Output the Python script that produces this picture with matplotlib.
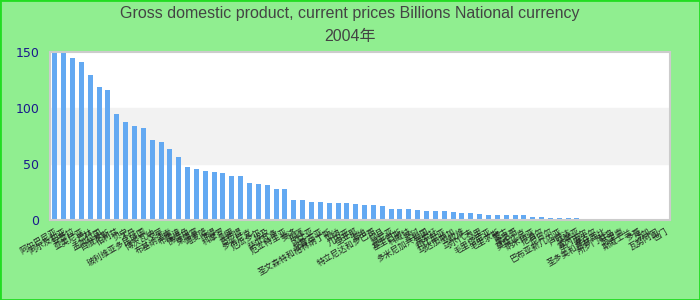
# GDP 2004 bar chart, sorted high to low

import matplotlib
matplotlib.use("Agg")
import matplotlib.pyplot as plt
from matplotlib.patches import Rectangle

title_line1 = "Gross domestic product, current prices Billions National currency"
title_line2 = "2004年"

countries = ["阿尔巴尼亚", "阿尔及利亚", "安哥拉", "亚美尼亚", "巴林", "孟加拉国", "白俄罗斯",
             "伯利兹", "贝宁", "不丹", "玻利维亚多民族国", "博茨瓦纳", "文莱", "布基纳法索",
             "布隆迪", "佛得角", "柬埔寨", "喀麦隆", "乍得", "科摩罗", "刚果",
             "吉布提", "多米尼克", "厄瓜多尔", "埃及", "萨尔瓦多", "厄立特里亚", "斐济",
             "加蓬", "冈比亚", "格鲁吉亚", "圣文森特和格林纳丁斯", "加纳", "几内亚", "圭亚那",
             "海地", "特立尼达和多巴哥", "约旦", "肯尼亚", "基里巴斯", "科威特", "老挝",
             "多米尼加共和国", "莱索托", "利比里亚", "马达加斯加", "马拉维", "马尔代夫", "马里",
             "毛里塔尼亚", "毛里求斯", "蒙古", "摩洛哥", "莫桑比克", "纳米比亚", "尼泊尔",
             "尼日尔", "巴布亚新几内亚", "卢旺达", "萨摩亚", "塞内加尔", "塞舌尔", "圣多美和普林西比",
             "所罗门群岛", "苏里南", "斯威士兰", "多哥", "汤加", "瓦努阿图", "也门"]

gdp = [150, 150, 144.4, 140.8, 129.2, 118.5, 115.8, 94.4, 87.2, 83.7, 81.9, 71.2, 69.4, 63.1,
       56, 47.3, 45.5, 43.7, 42.8, 41.9, 39.2, 39.2, 33, 32.1, 31.2, 27.7, 27.7, 17.9,
       17.9, 16, 16, 15.2, 15.2, 15.2, 14.3, 13.4, 13.4, 12.5, 9.8, 9.8, 9.8, 8.9,
       8, 8, 8, 7.1, 6.2, 6.2, 5.3, 4.5, 4.5, 4.5, 4.5, 4.5, 2.7, 2.7,
       1.8, 1.8, 1.8, 1.8, 0.9, 0.9, 0.9, 0.9, 0.9, 0.9, 0.9, 0.2, 0.1, 0.1]

yticks = [0, 50, 100, 150]

fig = plt.figure(figsize=(7, 3), dpi=100, facecolor="#90ee90")
fig.patches.append(Rectangle((0, 0), 1, 1, transform=fig.transFigure, fill=False,
                             edgecolor="#22dd22", linewidth=2, zorder=10))

ax = fig.add_axes([0.072, 0.267, 0.885, 0.561])
ax.set_facecolor("white")
ax.axhspan(50, 100, color="#f2f2f2", zorder=0)

x = list(range(len(gdp)))
ax.bar(x, gdp, width=0.56, color="#63a9f2", zorder=2)

ax.set_xlim(-0.5, len(gdp) - 0.5)
ax.set_ylim(0, 150)
ax.set_yticks(yticks)
ax.tick_params(axis="y", length=0, pad=8, labelsize=9, labelcolor="#1a1a8c")
ax.set_xticks(x)
ax.set_xticklabels(countries, rotation=30, ha="right", rotation_mode="anchor",
                   fontsize=6, color="#222222", family=["Noto Sans CJK SC", "DejaVu Sans"])
ax.tick_params(axis="x", length=0, pad=5)
for s in ax.spines.values():
    s.set_color("#cccccc")
    s.set_linewidth(1.5)

title_font = ["Liberation Sans Narrow", "Liberation Sans", "Noto Sans CJK SC"]
fig.text(0.5, 0.955, title_line1, ha="center", va="center", fontsize=11.5, color="#444444",
         family=title_font)
fig.text(0.5, 0.878, title_line2, ha="center", va="center", fontsize=11.5, color="#444444",
         family=title_font)

fig.savefig("out.png", dpi=100, facecolor=fig.get_facecolor())
